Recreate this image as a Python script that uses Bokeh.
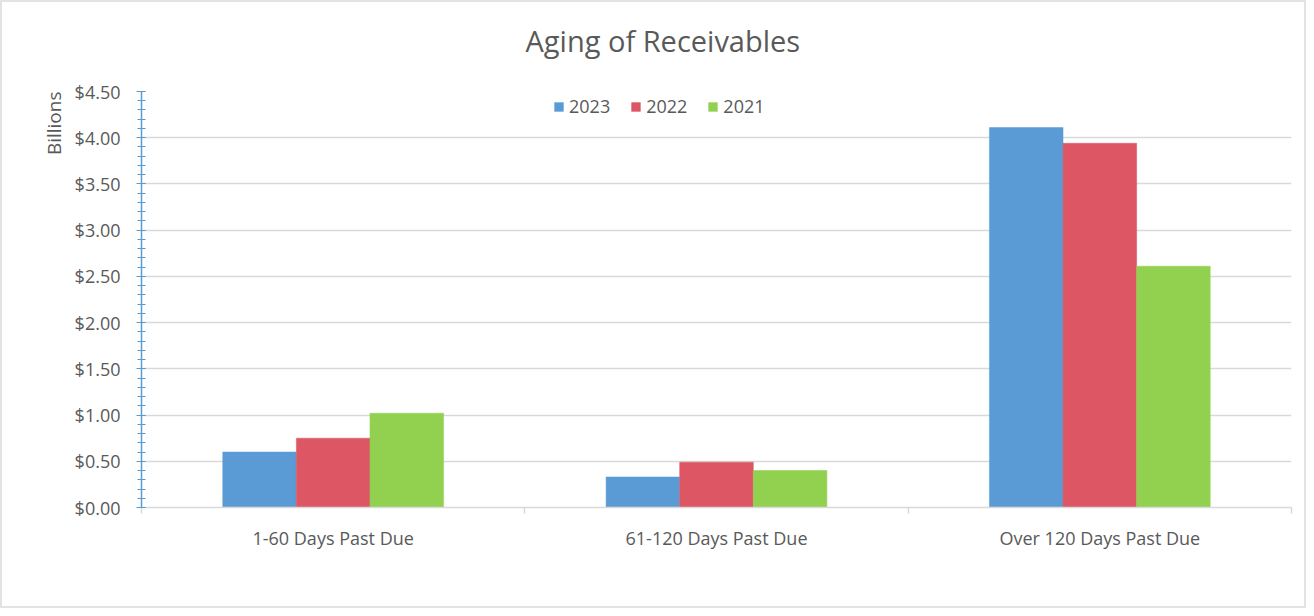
from bokeh.plotting import figure
from bokeh.models import (ColumnDataSource, Range1d, FixedTicker, SingleIntervalTicker,
                          NumeralTickFormatter, Legend, LegendItem, Title)
from bokeh.embed import file_html
from bokeh.resources import INLINE

categories = ["1-60 Days Past Due", "61-120 Days Past Due", "Over 120 Days Past Due"]
series_names = ["2023", "2022", "2021"]
values_2023 = [0.60, 0.33, 4.11]
values_2022 = [0.75, 0.49, 3.94]
values_2021 = [1.02, 0.40, 2.61]
colors = ["#5b9bd5", "#dc5663", "#92d050"]

FONT = "Open Sans"
TEXT = "#595959"

p = figure(width=1306, height=608, output_backend="svg", toolbar_location=None,
           x_range=Range1d(0, 3), y_range=Range1d(0, 4.5),
           min_border_left=139, min_border_right=17, min_border_top=86, min_border_bottom=103)
p.outline_line_color = None
p.background_fill_color = "white"
p.border_fill_color = "white"
p.styles = {"border": "2px solid #e3e3e3", "box-sizing": "border-box"}

spacer = Title(text=" ", text_font_size="12px", standoff=0)
p.add_layout(spacer, "above")
title = Title(text="Aging of Receivables", align="left", offset=384, standoff=32,
              text_font=FONT, text_font_size="29px", text_font_style="normal",
              text_color=TEXT)
p.add_layout(title, "above")

bar_w = 0.192
series = [values_2023, values_2022, values_2021]
renderers = []
for i, (name, vals) in enumerate(zip(series_names, series)):
    xs = [k + 0.5 + (i - 1) * bar_w for k in range(len(categories))]
    src = ColumnDataSource(dict(x=xs, top=vals))
    r = p.vbar(x="x", top="top", bottom=0, width=bar_w, source=src,
               fill_color=colors[i], line_color=colors[i], line_width=0.5)
    renderers.append((name, r))

# x axis
xa = p.xaxis[0]
xa.ticker = FixedTicker(ticks=[0.5, 1.5, 2.5], minor_ticks=[0, 1, 2, 3])
xa.major_label_overrides = {0.5: categories[0], 1.5: categories[1], 2.5: categories[2]}
xa.major_tick_line_color = None
xa.minor_tick_in = 0
xa.minor_tick_out = 6
xa.minor_tick_line_color = "#d9d9d9"
xa.minor_tick_line_width = 1.5
xa.axis_line_color = "#d9d9d9"
xa.axis_line_width = 1.5
xa.major_label_text_font = FONT
xa.major_label_text_font_size = "18px"
xa.major_label_text_color = TEXT
xa.major_label_standoff = 12

# y axis
ya = p.yaxis[0]
ya.ticker = SingleIntervalTicker(interval=0.5, num_minor_ticks=5)
ya.formatter = NumeralTickFormatter(format="$0.00")
ya.axis_line_color = "#5b9bd5"
ya.axis_line_width = 1.5
ya.major_tick_line_color = "#5b9bd5"
ya.major_tick_in = 4
ya.major_tick_out = 5
ya.minor_tick_line_color = "#5b9bd5"
ya.minor_tick_in = 4
ya.minor_tick_out = 4
ya.major_label_text_font = FONT
ya.major_label_text_font_size = "18px"
ya.major_label_text_color = TEXT
ya.major_label_standoff = 16

ylabel = Title(text="Billions", align="right", standoff=10,
               text_font=FONT, text_font_size="19px", text_font_style="normal",
               text_color=TEXT)
p.add_layout(ylabel, "left")

p.xgrid.grid_line_color = None
p.ygrid.grid_line_color = "#d9d9d9"
p.ygrid.grid_line_width = 1.5

legend = Legend(items=[LegendItem(label=n, renderers=[r]) for n, r in renderers],
                location=(412, 389), orientation="horizontal")
legend.background_fill_alpha = 0
legend.border_line_color = None
legend.label_text_font = FONT
legend.label_text_font_size = "18px"
legend.label_text_color = TEXT
legend.glyph_width = 11
legend.glyph_height = 11
legend.label_standoff = 5
legend.spacing = 20
legend.padding = 0
legend.margin = 0
legend.label_height = 14
p.add_layout(legend, "center")

open("out.html", "w").write(file_html(p, INLINE))
